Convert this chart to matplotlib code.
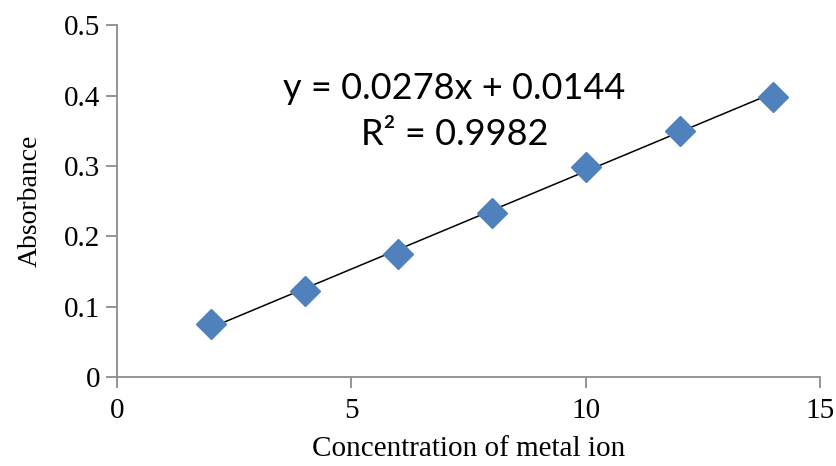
import numpy as np
import matplotlib.pyplot as plt

# Calibration data
conc = [2, 4, 6, 8, 10, 12, 14]
absorb = [0.075, 0.122, 0.175, 0.233, 0.298, 0.350, 0.398]
slope, intercept, r2 = 0.0278, 0.0144, 0.9982

fig = plt.figure(figsize=(8.36, 4.66), dpi=100)
ax = fig.add_axes([0.140, 0.191, 0.841, 0.755])

xs = np.array([conc[0], conc[-1]])
ax.plot(xs, slope * xs + intercept, color='black', lw=1.1, zorder=2)
ax.plot(conc, absorb, linestyle='none', marker='D', markersize=15,
        color='#4F81BD', markeredgecolor='#4F81BD', zorder=3)

ax.set_xlim(0, 15)
ax.set_ylim(0, 0.5)
ax.set_xticks([0, 5, 10, 15])
ax.set_yticks([0, 0.1, 0.2, 0.3, 0.4, 0.5])
ax.set_yticklabels(['0', '0.1', '0.2', '0.3', '0.4', '0.5'])

for s in ['top', 'right']:
    ax.spines[s].set_visible(False)
for s in ['left', 'bottom']:
    ax.spines[s].set_color('#8c8c8c')
    ax.spines[s].set_linewidth(1.3)
ax.tick_params(direction='out', length=8, width=1.3, color='#8c8c8c',
               labelsize=21)
ax.tick_params(axis='x', pad=7)
ax.tick_params(axis='y', pad=4)
for lbl in ax.get_xticklabels() + ax.get_yticklabels():
    lbl.set_fontfamily('Liberation Serif')

ax.set_xlabel('Concentration of metal ion', fontsize=21,
              family='Liberation Serif', labelpad=9)
ax.set_ylabel('Absorbance', fontsize=20, family='Liberation Serif', labelpad=15)

ax.text(7.2, 0.41, 'y = %.4fx + %.4f' % (slope, intercept), ha='center', va='center',
        fontsize=26, family='Lato')
ax.text(7.2, 0.344, 'R\u00b2 = %.4f' % r2, ha='center', va='center',
        fontsize=26, family='Lato')

fig.savefig('out.png', dpi=100)
